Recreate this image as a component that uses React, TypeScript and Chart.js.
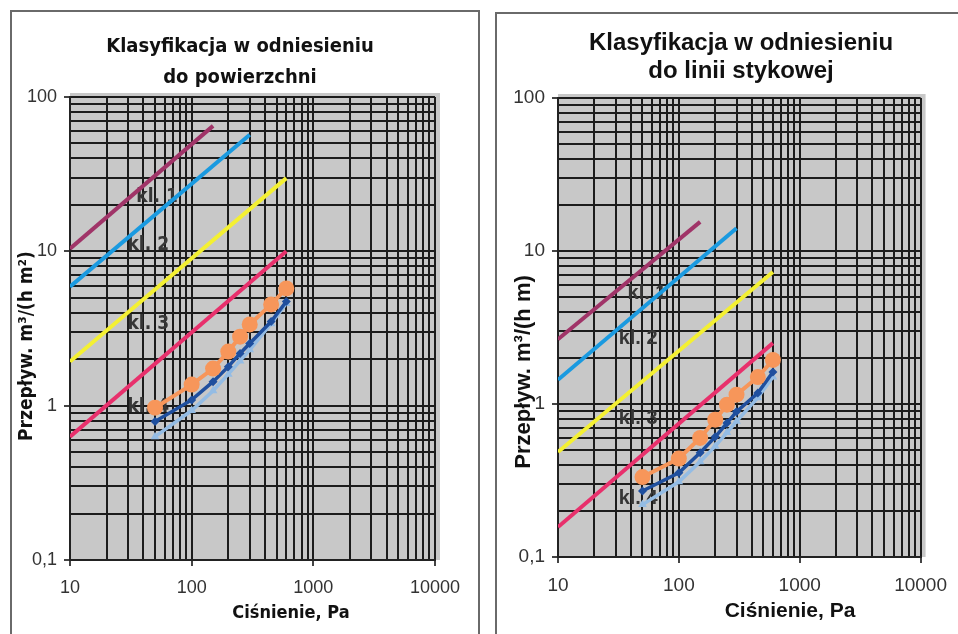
import React, { useEffect, useRef } from "react";
import { Chart, registerables } from "chart.js";

Chart.register(...registerables);

// ---- data -------------------------------------------------------------
const pressures = [50, 100, 150, 200, 250, 300, 450, 600];

// left chart: per m² of surface
const areaOrange = [0.97, 1.37, 1.74, 2.24, 2.8, 3.36, 4.53, 5.75];
const areaDarkBlue = [0.79, 1.09, 1.43, 1.79, 2.18, 2.53, 3.51, 4.73];
const areaLightBlue = [0.63, 0.93, 1.25, 1.6, 1.95, 2.3, 3.4, 4.6];

// right chart: per m of joint length
const jointOrange = [0.333, 0.44, 0.6, 0.79, 0.99, 1.15, 1.5, 1.94];
const jointDarkBlue = [0.27, 0.355, 0.48, 0.61, 0.75, 0.89, 1.18, 1.62];
const jointLightBlue = [0.22, 0.31, 0.42, 0.53, 0.65, 0.77, 1.1, 1.5];

// class limit lines (end points)
const kl1X = [10, 150];
const kl2X = [10, 300];
const kl3X = [10, 600];
const kl4X = [10, 600];
const areaKl1 = [10.4, 65];
const areaKl2 = [5.9, 57];
const areaKl3 = [1.93, 29.8];
const areaKl4 = [0.63, 10];
const jointKl1 = [2.65, 15.5];
const jointKl2 = [1.44, 14.1];
const jointKl3 = [0.485, 7.3];
const jointKl4 = [0.157, 2.5];

const classNames = ["kl. 1", "kl. 2", "kl. 3", "kl. 4"];
const areaLabelX = [52, 44, 44, 44];
const areaLabelY = [22.4, 10.9, 3.36, 0.985];
const jointLabelX = [54.5, 46, 46, 46];
const jointLabelY = [5.3, 2.7, 0.81, 0.243];

const xTickValues = [10, 100, 1000, 10000];
const xTickLabels = ["10", "100", "1000", "10000"];
const yTickValues = [0.1, 1, 10, 100];
const yTickLabels = ["0,1", "1", "10", "100"];

// ---- helpers ----------------------------------------------------------
const gridValues = (majors: number[]) => {
  const out: number[] = [];
  for (let i = 0; i < majors.length - 1; i++) {
    for (let m = 1; m <= 9; m++) out.push(majors[i] * m);
  }
  out.push(majors[majors.length - 1]);
  return out;
};

const majorIndex = (v: number, majors: number[]) =>
  majors.findIndex((t) => Math.abs(Math.log10(v) - Math.log10(t)) < 1e-6);

const pts = (xs: number[], ys: number[]) => xs.map((x, i) => ({ x, y: ys[i] }));

const COLORS = {
  kl1: "#a03468",
  kl2: "#1a9ae0",
  kl3: "#f4f032",
  kl4: "#e8306c",
  orange: "#f7965a",
  dark: "#1f4f9e",
  light: "#94bce4",
  grid: "#1c1c1c",
  plot: "#c8c8c8",
};

type Spec = {
  width: number;
  height: number;
  padding: { left: number; right: number; top: number; bottom: number };
  tickFont: string;
  tickSize: number;
  titleFamily: string;
  titleLines: string[];
  titleSize: number;
  titleX: number;
  titleY: number[];
  yTitle: string;
  ySize: number;
  yTitleX: number;
  yTitleY: number;
  xTitle: string;
  xSize: number;
  xTitleX: number;
  xTitleY: number;
  labelSize: number;
  labelX: number[];
  labelY: number[];
  orange: number[];
  dark: number[];
  light: number[];
  k1: number[];
  k2: number[];
  k3: number[];
  k4: number[];
};

function makeConfig(s: Spec): any {
  const decor = {
    id: "decor",
    beforeDraw(chart: any) {
      const { ctx, chartArea: a } = chart;
      ctx.save();
      ctx.fillStyle = "#ffffff";
      ctx.fillRect(0, 0, chart.width, chart.height);
      ctx.fillStyle = COLORS.plot;
      ctx.fillRect(a.left, a.top - 4, a.right - a.left + 5, a.bottom - a.top + 4);
      ctx.restore();
    },
    beforeDatasetsDraw(chart: any) {
      const { ctx, scales } = chart;
      ctx.save();
      ctx.font = `bold ${s.labelSize}px ${s.titleFamily}`;
      ctx.fillStyle = "#363636";
      ctx.textAlign = "center";
      ctx.textBaseline = "middle";
      classNames.forEach((t, i) => {
        ctx.fillText(t, scales.x.getPixelForValue(s.labelX[i]), scales.y.getPixelForValue(s.labelY[i]));
      });
      ctx.restore();
    },
    afterDraw(chart: any) {
      const { ctx } = chart;
      ctx.save();
      ctx.fillStyle = "#111111";
      ctx.textAlign = "center";
      ctx.textBaseline = "alphabetic";
      ctx.font = `bold ${s.titleSize}px ${s.titleFamily}`;
      s.titleLines.forEach((t, i) => ctx.fillText(t, s.titleX, s.titleY[i]));
      ctx.font = `bold ${s.xSize}px ${s.titleFamily}`;
      ctx.fillText(s.xTitle, s.xTitleX, s.xTitleY);
      ctx.translate(s.yTitleX, s.yTitleY);
      ctx.rotate(-Math.PI / 2);
      ctx.textBaseline = "middle";
      ctx.font = `bold ${s.ySize}px ${s.titleFamily}`;
      ctx.fillText(s.yTitle, 0, 0);
      ctx.restore();
    },
  };

  const axis = (majors: number[], labels: string[], isX: boolean) => ({
    type: "logarithmic",
    min: majors[0],
    max: majors[majors.length - 1],
    afterBuildTicks: (scale: any) => {
      scale.ticks = gridValues(majors).map((v) => ({ value: v }));
    },
    afterFit: (scale: any) => {
      if (isX) scale.height = 44;
      else scale.width = 50;
    },
    ticks: {
      autoSkip: false,
      maxRotation: 0,
      minRotation: 0,
      padding: isX ? 11 : 7,
      color: "#333333",
      font: { family: s.tickFont, size: s.tickSize },
      callback: (v: any) => {
        const i = majorIndex(Number(v), majors);
        return i >= 0 ? labels[i] : "";
      },
    },
    grid: {
      color: COLORS.grid,
      lineWidth: 2,
      tickLength: 6,
      tickColor: (ctx: any) =>
        ctx.tick && majorIndex(ctx.tick.value, majors) >= 0 ? "#444444" : "rgba(0,0,0,0)",
    },
    border: { color: "#222222", width: 2 },
  });

  const lineDs = (data: any[], color: string) => ({
    data,
    borderColor: color,
    backgroundColor: color,
    borderWidth: 4,
    pointRadius: 0,
    tension: 0,
  });

  return {
    type: "line",
    data: {
      datasets: [
        {
          data: pts(pressures, s.orange),
          borderColor: COLORS.orange,
          backgroundColor: COLORS.orange,
          borderWidth: 4,
          pointStyle: "circle",
          pointRadius: 8,
          pointBorderWidth: 0,
        },
        {
          data: pts(pressures, s.dark),
          borderColor: COLORS.dark,
          backgroundColor: COLORS.dark,
          borderWidth: 3.5,
          pointStyle: "rectRot",
          pointRadius: 4.5,
          pointBorderWidth: 0,
        },
        {
          data: pts(pressures, s.light),
          borderColor: COLORS.light,
          backgroundColor: COLORS.light,
          borderWidth: 3.5,
          pointStyle: "triangle",
          pointRadius: 5,
          pointBorderWidth: 0,
        },
        lineDs(pts(kl1X, s.k1), COLORS.kl1),
        lineDs(pts(kl2X, s.k2), COLORS.kl2),
        lineDs(pts(kl3X, s.k3), COLORS.kl3),
        lineDs(pts(kl4X, s.k4), COLORS.kl4),
      ],
    },
    options: {
      responsive: false,
      maintainAspectRatio: false,
      animation: false,
      parsing: true,
      layout: { padding: s.padding },
      plugins: {
        legend: { display: false },
        tooltip: { enabled: false },
        title: { display: false },
      },
      scales: {
        x: axis(xTickValues, xTickLabels, true),
        y: axis(yTickValues, yTickLabels, false),
      },
    },
    plugins: [decor],
  };
}

const leftSpec: Spec = {
  width: 464,
  height: 622,
  padding: { left: 8, right: 41, top: 85, bottom: 30 },
  tickFont: "'Liberation Sans', Arial, sans-serif",
  tickSize: 18,
  titleFamily: "'DejaVu Sans Condensed', 'DejaVu Sans', sans-serif",
  titleLines: ["Klasyfikacja w odniesieniu", "do powierzchni"],
  titleSize: 20,
  titleX: 228,
  titleY: [40, 71],
  yTitle: "Przepływ. m³/(h m²)",
  ySize: 19,
  yTitleX: 15,
  yTitleY: 334,
  xTitle: "Ciśnienie, Pa",
  xSize: 18,
  xTitleX: 279,
  xTitleY: 606,
  labelSize: 19,
  labelX: areaLabelX,
  labelY: areaLabelY,
  orange: areaOrange,
  dark: areaDarkBlue,
  light: areaLightBlue,
  k1: areaKl1,
  k2: areaKl2,
  k3: areaKl3,
  k4: areaKl4,
};

const rightSpec: Spec = {
  width: 460,
  height: 620,
  padding: { left: 10, right: 33, top: 84, bottom: 33 },
  tickFont: "'Liberation Sans', Arial, sans-serif",
  tickSize: 19,
  titleFamily: "'Liberation Sans', Arial, sans-serif",
  titleLines: ["Klasyfikacja w odniesieniu", "do linii stykowej"],
  titleSize: 24,
  titleX: 243,
  titleY: [36, 64],
  yTitle: "Przepływ. m³/(h m)",
  ySize: 22,
  yTitleX: 26,
  yTitleY: 358,
  xTitle: "Ciśnienie, Pa",
  xSize: 21,
  xTitleX: 292,
  xTitleY: 603,
  labelSize: 20,
  labelX: jointLabelX,
  labelY: jointLabelY,
  orange: jointOrange,
  dark: jointDarkBlue,
  light: jointLightBlue,
  k1: jointKl1,
  k2: jointKl2,
  k3: jointKl3,
  k4: jointKl4,
};

function ChartPanel({ spec, left, top }: { spec: Spec; left: number; top: number }) {
  const ref = useRef<HTMLCanvasElement | null>(null);
  useEffect(() => {
    if (!ref.current) return;
    const chart = new Chart(ref.current, makeConfig(spec));
    return () => chart.destroy();
  }, [spec]);
  return (
    <canvas
      ref={ref}
      width={spec.width}
      height={spec.height}
      style={{ position: "absolute", left, top, width: spec.width, height: spec.height }}
    />
  );
}

export default function App() {
  useEffect(() => {
    document.body.style.margin = "0";
    document.body.style.overflow = "hidden";
  }, []);
  return (
    <div
      style={{
        position: "relative",
        width: 958,
        height: 634,
        overflow: "hidden",
        background: "#ffffff",
      }}
    >
      <div
        style={{
          position: "absolute",
          left: 10,
          top: 10,
          width: 466,
          height: 700,
          border: "2px solid #6a6a6a",
        }}
      />
      <div
        style={{
          position: "absolute",
          left: 495,
          top: 12,
          width: 500,
          height: 700,
          border: "2px solid #6a6a6a",
        }}
      />
      <ChartPanel spec={leftSpec} left={12} top={12} />
      <ChartPanel spec={rightSpec} left={498} top={14} />
    </div>
  );
}
